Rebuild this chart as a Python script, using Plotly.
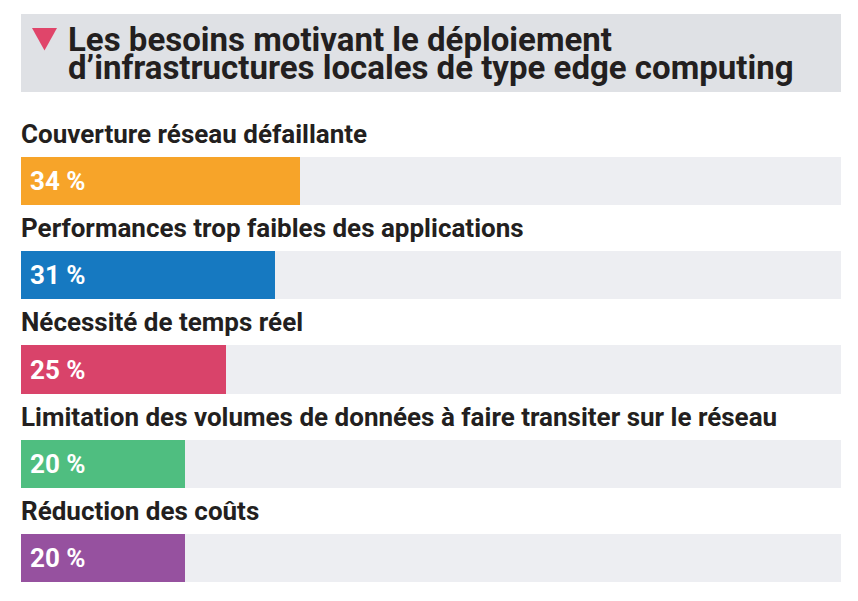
import plotly.graph_objects as go

categories = [
    "Couverture réseau défaillante",
    "Performances trop faibles des applications",
    "Nécessité de temps réel",
    "Limitation des volumes de données à faire transiter sur le réseau",
    "Réduction des coûts",
]
values = [34, 31, 25, 20, 20]
value_labels = ["34 %", "31 %", "25 %", "20 %", "20 %"]
colors = ["#F7A429", "#1679C1", "#D9436A", "#4FBE80", "#96519F"]
title_lines = [
    "Les besoins motivant le déploiement",
    "d’infrastructures locales de type edge computing",
]

W, H = 858, 601
TEXT = "#231F20"
TRACK = "#EDEEF2"
BOX = "#DFE1E5"

pos = list(range(len(categories)))

fig = go.Figure()
fig.add_trace(go.Bar(
    x=[100] * len(pos), y=pos, orientation="h", width=0.51,
    marker=dict(color=TRACK, line=dict(width=0)), hoverinfo="skip", showlegend=False,
))
fig.add_trace(go.Bar(
    x=values, y=pos, orientation="h", width=0.51,
    marker=dict(color=colors, line=dict(width=0)), hoverinfo="skip", showlegend=False,
))

annotations = []
for p, cat, lab in zip(pos, categories, value_labels):
    annotations.append(dict(
        x=0, y=p - 0.5, xref="x", yref="y", text="<b>" + cat + "</b>",
        showarrow=False, xanchor="left", yanchor="middle", xshift=-2,
        font=dict(family="Roboto", size=26, color=TEXT),
    ))
    annotations.append(dict(
        x=0, y=p, xref="x", yref="y", text="<b>" + lab + "</b>",
        showarrow=False, xanchor="left", yanchor="middle", xshift=7,
        font=dict(family="Roboto", size=26, color="white"),
    ))

title_centers = [39.5, 67.5]
for line, cy in zip(title_lines, title_centers):
    annotations.append(dict(
        x=66 / W, y=1 - cy / H, xref="paper", yref="paper", text="<b>" + line + "</b>",
        showarrow=False, xanchor="left", yanchor="middle",
        font=dict(family="Roboto", size=33, color=TEXT),
    ))

def px(x): return x / W
def py(y): return 1 - y / H

shapes = [
    dict(type="rect", xref="paper", yref="paper", x0=px(21), x1=px(841), y0=py(92), y1=py(14),
         fillcolor=BOX, line=dict(width=0), layer="below"),
    dict(type="path", xref="paper", yref="paper",
         path=f"M {px(32)} {py(28)} L {px(57)} {py(28)} L {px(44.5)} {py(50.5)} Z",
         fillcolor="#E0456A", line=dict(width=0)),
]

top_center = 181.0
spacing = 94.25
fig.update_layout(
    width=W, height=H, margin=dict(l=0, r=0, t=0, b=0),
    paper_bgcolor="white", plot_bgcolor="white",
    barmode="overlay", bargap=0,
    xaxis=dict(domain=[21 / W, 841 / W], range=[0, 100], visible=False, fixedrange=True),
    yaxis=dict(domain=[0, 1], range=[(H - top_center) / spacing, -top_center / spacing],
               visible=False, fixedrange=True),
    annotations=annotations, shapes=shapes, showlegend=False,
)
fig.write_html("out.html", post_script="document.body.style.margin='0';",
               config={"displayModeBar": False})
